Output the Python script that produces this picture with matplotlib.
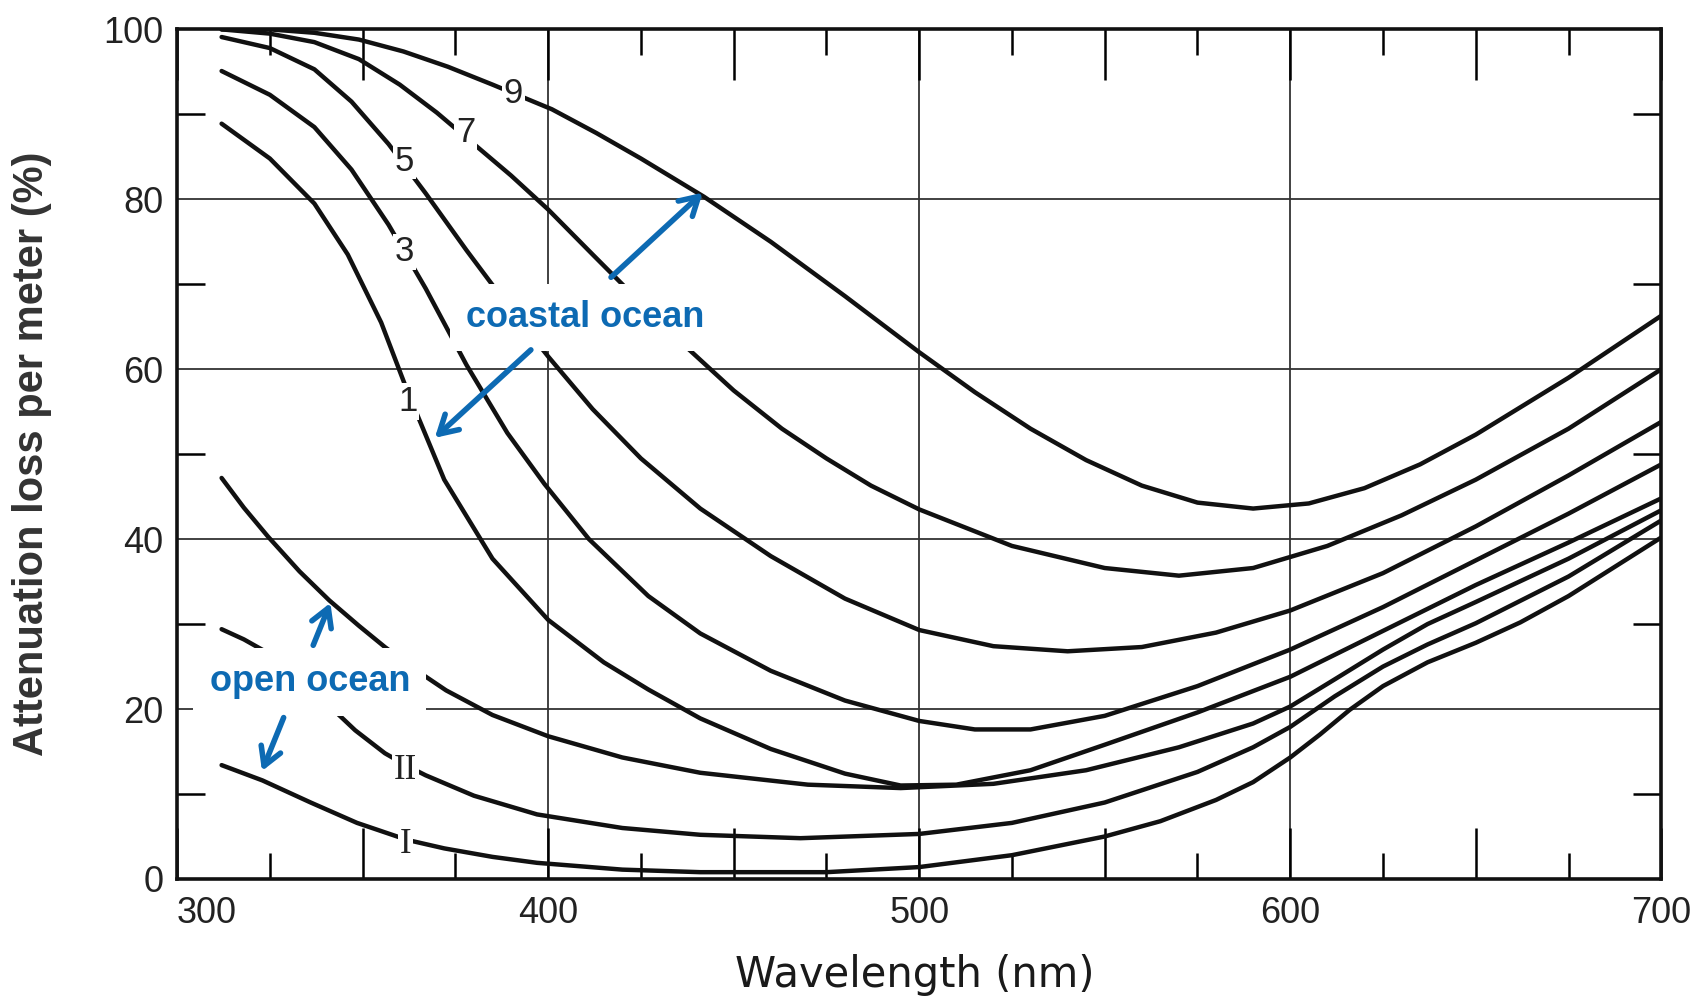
#!usr/bin/env python
#-*- coding:utf-8 -*-

# attenuation loss per meter of sea water, open ocean (I, II, III) and coastal ocean (1..9)

import matplotlib
matplotlib.use('Agg')
import matplotlib.pyplot as plt


# data, wavelength in nm, attenuation in %
wl_9 = [312, 325, 337, 349, 361, 373, 385, 401, 413, 425, 442, 460, 480, 500, 515, 530, 545, 560, 575, 590, 605, 620, 635, 650, 675, 700]
att_9 = [100, 100, 99.6, 98.8, 97.4, 95.6, 93.5, 90.6, 87.8, 84.8, 80.3, 75, 68.6, 62, 57.3, 53, 49.3, 46.3, 44.3, 43.6, 44.2, 46, 48.8, 52.3, 59, 66.3]

wl_7 = [312, 325, 337, 349, 360, 370, 380, 390, 400, 412, 425, 437, 450, 463, 475, 487, 500, 525, 550, 570, 590, 610, 630, 650, 675, 700]
att_7 = [100, 99.5, 98.5, 96.5, 93.5, 90.2, 86.5, 82.8, 78.8, 73.5, 67.8, 62.7, 57.5, 53, 49.5, 46.3, 43.5, 39.2, 36.6, 35.7, 36.6, 39.2, 42.8, 47, 53, 60]

wl_5 = [312, 325, 337, 347, 357, 367, 378, 390, 400, 412, 425, 441, 460, 480, 500, 520, 540, 560, 580, 600, 625, 650, 675, 700]
att_5 = [99.1, 97.8, 95.3, 91.5, 86.5, 80.7, 74, 67, 61.5, 55.3, 49.5, 43.6, 38, 33, 29.3, 27.4, 26.8, 27.3, 29, 31.6, 36, 41.5, 47.5, 53.8]

wl_3 = [312, 325, 337, 347, 357, 367, 378, 389, 399, 411, 427, 441, 460, 480, 500, 515, 530, 550, 575, 600, 625, 650, 675, 700]
att_3 = [95.1, 92.3, 88.5, 83.5, 77, 69.5, 60.5, 52.5, 46.5, 40, 33.3, 28.9, 24.5, 21, 18.6, 17.6, 17.6, 19.2, 22.7, 27, 32, 37.5, 43, 48.8]

wl_1 = [312, 325, 337, 346, 355, 362, 372, 385, 400, 415, 427, 441, 460, 480, 495, 510, 530, 550, 575, 600, 625, 650, 675, 700]
att_1 = [88.9, 84.8, 79.5, 73.5, 65.5, 57.5, 47, 37.7, 30.5, 25.5, 22.3, 18.9, 15.3, 12.4, 11, 11.1, 12.8, 15.8, 19.6, 23.8, 29.2, 34.6, 39.6, 44.8]

wl_III = [312, 318, 324.5, 333, 341, 349, 356, 364, 372.5, 385, 400, 420, 441, 470, 495, 520, 545, 570, 590, 600, 612, 625, 637, 650, 675, 700]
att_III = [47.2, 43.7, 40.3, 36.2, 32.8, 29.8, 27.3, 24.7, 22.2, 19.3, 16.8, 14.3, 12.5, 11.1, 10.7, 11.2, 12.8, 15.5, 18.3, 20.3, 23.5, 27, 30, 32.6, 37.7, 43.4]

wl_II = [312, 318, 324.5, 332, 340, 348, 356, 362, 367, 380, 397, 420, 441, 468, 500, 525, 550, 575, 590, 600, 612, 625, 637, 650, 675, 700]
att_II = [29.4, 28.2, 26.6, 23.8, 20.8, 17.5, 14.8, 13.3, 12.2, 9.8, 7.6, 6, 5.2, 4.8, 5.3, 6.6, 9, 12.6, 15.5, 17.9, 21.5, 25, 27.6, 30.1, 35.6, 42.2]

wl_I = [312, 323, 336, 348.5, 362, 372, 385, 397, 420, 441, 475, 500, 525, 550, 565, 580, 590, 600, 608, 616, 625, 637, 650, 662, 675, 700]
att_I = [13.4, 11.6, 9, 6.6, 4.6, 3.6, 2.6, 1.9, 1.1, 0.8, 0.8, 1.4, 2.8, 5, 6.8, 9.3, 11.4, 14.3, 17, 19.9, 22.7, 25.5, 27.8, 30.2, 33.3, 40.2]

# curve names and where they are written on the curves
curve_names = ['9', '7', '5', '3', '1', 'II', 'I']
name_x = [390.6, 377.7, 361.3, 361.3, 362.2, 361.6, 361.6]
name_y = [92.5, 87.9, 84.5, 73.8, 56.2, 12.8, 4.1]

x_ticks = [300, 400, 500, 600, 700]
y_ticks = [0, 20, 40, 60, 80, 100]

BLUE = '#0D6AB3'


def drawAttenuation():
	fig = plt.figure(figsize = (17.06, 9.96), dpi = 100)
	ax = fig.add_axes([0.1038, 0.1175, 0.870, 0.853])

	curves = [(wl_9, att_9), (wl_7, att_7), (wl_5, att_5), (wl_3, att_3),
		(wl_1, att_1), (wl_III, att_III), (wl_II, att_II), (wl_I, att_I)]
	for wl, att in curves:
		ax.plot(wl, att, color = '#111111', lw = 3.2, solid_joinstyle = 'round',
			solid_capstyle = 'round', zorder = 3)

	for name, x, y in zip(curve_names, name_x, name_y):
		fam = 'Liberation Serif' if 'I' in name else 'Liberation Sans'
		ax.text(x, y, name, fontsize = 25, family = fam, color = '#222222', ha = 'center', va = 'center',
			bbox = dict(boxstyle = 'square,pad=0.05', fc = 'white', ec = 'none'), zorder = 4)

	# grid
	for x in [400, 500, 600]:
		ax.axvline(x, color = '#333333', lw = 1.3, zorder = 1)
	for y in [20, 40, 60, 80]:
		ax.axhline(y, color = '#333333', lw = 1.3, zorder = 1)

	ax.set_xlim(300, 700)
	ax.set_ylim(0, 100)

	# ticks
	ax.set_xticks(list(range(300, 701, 50)))
	ax.set_xticklabels([str(v) if v in x_ticks else '' for v in range(300, 701, 50)])
	ax.set_xticks(list(range(325, 700, 50)), minor = True)
	ax.set_yticks(y_ticks)
	ax.set_yticks(list(range(10, 100, 20)), minor = True)
	ax.tick_params(axis = 'x', which = 'major', direction = 'in', length = 37, width = 1.8,
		top = True, bottom = True, pad = 12, labelsize = 26)
	ax.tick_params(axis = 'x', which = 'minor', direction = 'in', length = 19, width = 1.8,
		top = True, bottom = True)
	ax.tick_params(axis = 'y', which = 'major', direction = 'in', length = 0,
		left = True, right = True, pad = 10, labelsize = 26)
	ax.tick_params(axis = 'y', which = 'minor', direction = 'in', length = 20, width = 1.8,
		left = True, right = True)
	for lab in ax.get_xticklabels() + ax.get_yticklabels():
		lab.set_family('Liberation Sans')
		lab.set_color('#222222')
	# the first wavelength label sits right of its tick in the original
	ax.get_xticklabels()[0].set_ha('left')

	for sp in ax.spines.values():
		sp.set_linewidth(2.6)
		sp.set_color('#111111')

	ax.set_xlabel('Wavelength (nm)', fontsize = 30, color = '#1a1a1a')
	ax.xaxis.set_label_coords(0.497, -0.088)
	ax.set_ylabel('Attenuation loss per meter (%)', fontsize = 30, family = 'Liberation Sans',
		fontweight = 'bold', color = '#333333')
	ax.yaxis.set_label_coords(-0.084, 0.5)

	# annotations
	box = dict(boxstyle = 'square,pad=0.45', fc = 'white', ec = 'none')
	ax.text(410, 66.1, 'coastal ocean', fontsize = 26, family = 'Liberation Sans', fontweight = 'bold',
		color = BLUE, ha = 'center', va = 'center', bbox = box, zorder = 5)
	ax.text(335.8, 23.2, 'open ocean', fontsize = 26, family = 'Liberation Sans', fontweight = 'bold',
		color = BLUE, ha = 'center', va = 'center', bbox = box, zorder = 5)

	arrow = dict(arrowstyle = '->,head_length=1.3,head_width=0.75', color = BLUE, lw = 4)
	ax.annotate('', xy = (442.2, 81), xytext = (416.4, 70.6), arrowprops = arrow, zorder = 6)
	ax.annotate('', xy = (368.9, 51.7), xytext = (395.9, 62.5), arrowprops = arrow, zorder = 6)
	ax.annotate('', xy = (341.6, 32.8), xytext = (336.4, 27.2), arrowprops = arrow, zorder = 6)
	ax.annotate('', xy = (322.6, 12.4), xytext = (329, 19.3), arrowprops = arrow, zorder = 6)

	plt.savefig('out.png', dpi = 100)

if __name__ == '__main__':
	drawAttenuation()
